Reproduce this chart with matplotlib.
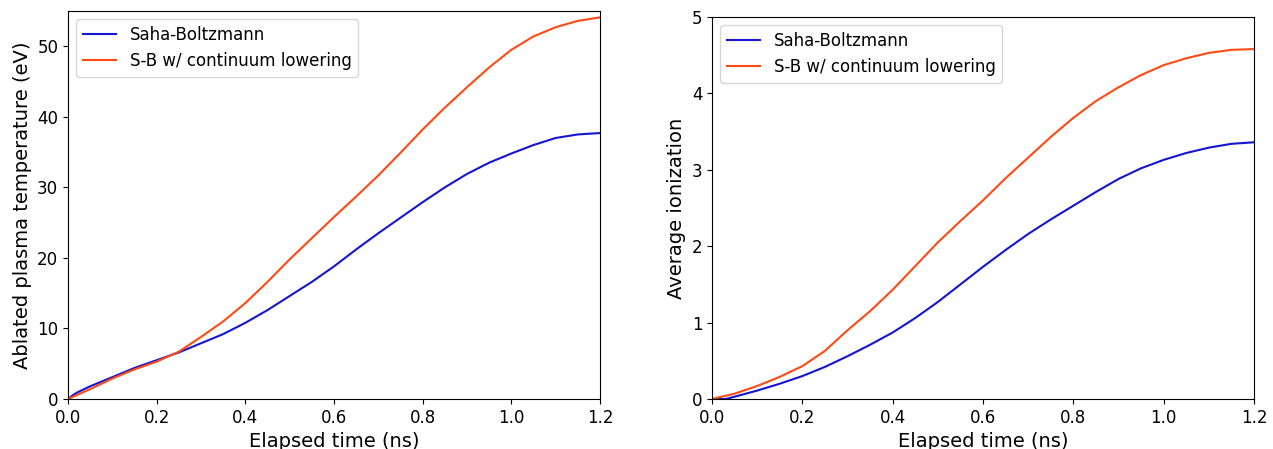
import matplotlib
matplotlib.use("Agg")
import matplotlib.pyplot as plt

t = [0.0, 0.05, 0.1, 0.15, 0.2, 0.25, 0.3, 0.35, 0.4, 0.45, 0.5, 0.55, 0.6,
     0.65, 0.7, 0.75, 0.8, 0.85, 0.9, 0.95, 1.0, 1.05, 1.1, 1.15, 1.2]
temp_t_sb = [0.0, 0.01, 0.02] + t[1:]
temp_sb = [0.0, 0.5, 0.9, 1.8, 3.1, 4.4, 5.5, 6.6, 7.9, 9.2, 10.8, 12.6, 14.6, 16.6, 18.8,
           21.2, 23.5, 25.7, 27.9, 30.0, 31.9, 33.5, 34.8, 36.0, 37.0, 37.5, 37.7]
temp_cl = [0.0, 1.4, 2.9, 4.2, 5.3, 6.7, 8.8, 11.0, 13.6, 16.6, 19.8, 22.8, 25.8,
           28.7, 31.7, 34.9, 38.2, 41.3, 44.2, 47.0, 49.5, 51.4, 52.7, 53.6, 54.1]
ion_t_sb = [0.0, 0.03] + t[1:]
ion_sb = [0.0, 0.0, 0.03, 0.11, 0.2, 0.3, 0.42, 0.56, 0.71, 0.87, 1.06, 1.27, 1.5, 1.73,
          1.95, 2.16, 2.35, 2.53, 2.71, 2.88, 3.02, 3.13, 3.22, 3.29, 3.34, 3.36]
ion_cl = [0.0, 0.07, 0.17, 0.29, 0.43, 0.63, 0.9, 1.15, 1.43, 1.74, 2.05, 2.33, 2.6,
          2.89, 3.16, 3.43, 3.68, 3.9, 4.08, 4.24, 4.37, 4.46, 4.53, 4.57, 4.58]

labels = ["Saha-Boltzmann", "S-B w/ continuum lowering"]
c_sb = "#1414d2"
c_cl = "#ff4a14"

fig = plt.figure(figsize=(12.73, 4.49), dpi=100)
ax1 = fig.add_axes([68/1273, 50/449, 532/1273, 388/449])
ax2 = fig.add_axes([712/1273, 50/449, 542/1273, 382/449])

ax1.plot(temp_t_sb, temp_sb, color=c_sb, lw=1.5, label=labels[0])
ax1.plot(t, temp_cl, color=c_cl, lw=1.5, label=labels[1])
ax1.set_xlim(0, 1.2)
ax1.set_ylim(0, 55)
ax1.set_yticks([0, 10, 20, 30, 40, 50])
ax1.set_xlabel("Elapsed time (ns)", fontsize=14)
ax1.set_ylabel("Ablated plasma temperature (eV)", fontsize=14)

ax2.plot(ion_t_sb, ion_sb, color=c_sb, lw=1.5, label=labels[0])
ax2.plot(t, ion_cl, color=c_cl, lw=1.5, label=labels[1])
ax2.set_xlim(0, 1.2)
ax2.set_ylim(0, 5)
ax2.set_xlabel("Elapsed time (ns)", fontsize=14)
ax2.set_ylabel("Average ionization", fontsize=14)

for ax in (ax1, ax2):
    ax.tick_params(labelsize=12)
    ax.legend(loc="upper left", fontsize=12)

fig.savefig("out.png", dpi=100)
